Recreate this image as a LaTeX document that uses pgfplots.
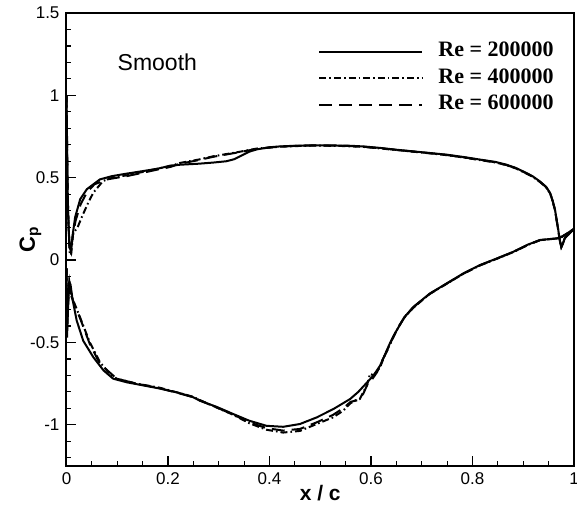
\documentclass[border=0pt]{standalone}
\usepackage{fontspec}
\setmainfont{Liberation Sans}
\newfontfamily\legfont{Liberation Serif}
\usepackage{pgfplots}
\pgfplotsset{compat=1.18}
\usetikzlibrary{calc}
\begin{document}
\begin{tikzpicture}
\begin{axis}[
  scale only axis, width=253.75pt, height=226.5pt,
  xmin=0, xmax=1, ymin=-1.25, ymax=1.5,
  xtick={0,0.2,0.4,0.6,0.8,1}, xticklabels={0,0.2,0.4,0.6,0.8,1},
  ytick={-1,-0.5,0,0.5,1,1.5}, yticklabels={-1,-0.5,0,0.5,1,1.5},
  minor xtick={0.05,0.1,0.15,0.25,0.3,0.35,0.45,0.5,0.55,0.65,0.7,0.75,0.85,0.9,0.95},
  minor ytick={-1.2,-1.1,-0.9,-0.8,-0.7,-0.6,-0.4,-0.3,-0.2,-0.1,0.1,0.2,0.3,0.4,0.6,0.7,0.8,0.9,1.1,1.2,1.3,1.4},
  tick align=inside, xtick pos=bottom, ytick pos=left,
  major tick length=5pt, minor tick length=2.5pt,
  every tick/.style={line width=0.6pt, black},
  axis line style={line width=1pt},
  ticklabel style={font=\fontsize{8.5}{10}\selectfont},
  /pgf/number format/assume math mode=true,
  xlabel={\bfseries x / c},
  xlabel style={font=\fontsize{10.5}{12}\selectfont, at={(rel axis cs:0.5,0)}, anchor=center, yshift=-13.5pt},
  legend style={draw=none, fill=none, at={(rel axis cs:1,1)}, anchor=north east, xshift=-7pt, yshift=-12.8pt,
    font=\legfont\bfseries\fontsize{11}{12}\selectfont, row sep=4.25pt,
    nodes={inner sep=0pt, text height=7pt, text depth=2pt},
    /tikz/every odd column/.append style={column sep=7.5pt}},
  legend cell align=left,
  legend image code/.code={\draw[#1] (0pt,0pt) -- (51.5pt,0pt);},
]
\coordinate (SW) at (rel axis cs:0,0);
\coordinate (NE) at (rel axis cs:1,1);
\coordinate (ML) at (rel axis cs:0,0.5);
% ---- upper branches
\addplot[black, line width=1pt] coordinates {
(0.000,1.00) (0.001,0.75) (0.002,0.45) (0.004,0.20) (0.006,0.08) (0.009,0.05)
(0.012,0.15) (0.017,0.26) (0.027,0.37) (0.040,0.43) (0.066,0.49) (0.090,0.51)
(0.119,0.525) (0.150,0.54) (0.180,0.555) (0.204,0.573) (0.224,0.579) (0.260,0.585)
(0.289,0.592) (0.315,0.600) (0.330,0.612) (0.345,0.635) (0.360,0.658) (0.375,0.672)
(0.400,0.685) (0.420,0.690) (0.450,0.694) (0.486,0.697) (0.520,0.696) (0.552,0.695)
(0.585,0.690) (0.618,0.681) (0.650,0.670) (0.683,0.660) (0.716,0.650) (0.749,0.640)
(0.782,0.626) (0.815,0.610) (0.845,0.596) (0.867,0.579) (0.885,0.560) (0.900,0.538)
(0.918,0.510) (0.933,0.477) (0.945,0.445) (0.953,0.407) (0.958,0.360) (0.9626,0.305)
(0.966,0.240) (0.969,0.183) (0.972,0.120) (0.975,0.080) (0.978,0.100) (0.982,0.135)
(0.990,0.160) (1.000,0.190)};
\addlegendentry{Re = 200000}
\addplot[black, line width=1pt, dash pattern=on 3.5pt off 1.5pt on 0.8pt off 1.5pt] coordinates {
(0.000,1.00) (0.001,0.70) (0.003,0.30) (0.006,0.05) (0.009,0.03) (0.013,0.16)
(0.022,0.20) (0.030,0.26) (0.043,0.35) (0.053,0.41) (0.072,0.48) (0.090,0.50)
(0.119,0.515) (0.150,0.535) (0.180,0.555) (0.204,0.570) (0.224,0.590) (0.260,0.610)
(0.289,0.630) (0.335,0.654) (0.375,0.677) (0.420,0.688) (0.450,0.692) (0.486,0.695)
(0.520,0.694) (0.552,0.692) (0.585,0.687) (0.618,0.678) (0.650,0.668) (0.683,0.658)
(0.716,0.648) (0.749,0.637) (0.782,0.623) (0.815,0.607) (0.845,0.593) (0.867,0.576)
(0.885,0.557) (0.900,0.535) (0.918,0.507) (0.933,0.474) (0.945,0.442) (0.953,0.404)
(0.958,0.357) (0.9626,0.302) (0.966,0.237) (0.969,0.180) (0.972,0.118) (0.975,0.078)
(0.978,0.098) (0.982,0.133) (0.990,0.158) (1.000,0.190)};
\addlegendentry{Re = 400000}
\addplot[black, line width=1pt, dash pattern=on 6.5pt off 3.5pt] coordinates {
(0.000,1.00) (0.001,0.72) (0.003,0.32) (0.006,0.08) (0.009,0.06) (0.012,0.14)
(0.018,0.24) (0.028,0.34) (0.040,0.41) (0.055,0.46) (0.080,0.49) (0.119,0.510)
(0.150,0.530) (0.180,0.550) (0.204,0.565) (0.224,0.585) (0.260,0.607) (0.289,0.627)
(0.335,0.652) (0.375,0.675) (0.420,0.689) (0.450,0.693) (0.486,0.696) (0.520,0.695)
(0.552,0.693) (0.585,0.688) (0.618,0.679) (0.650,0.669) (0.683,0.659) (0.716,0.649)
(0.749,0.638) (0.782,0.624) (0.815,0.608) (0.845,0.594) (0.867,0.577) (0.885,0.558)
(0.900,0.536) (0.918,0.508) (0.933,0.475) (0.945,0.443) (0.953,0.405) (0.958,0.358)
(0.9626,0.303) (0.966,0.238) (0.969,0.181) (0.972,0.119) (0.975,0.079) (0.978,0.099)
(0.982,0.134) (0.990,0.159) (1.000,0.190)};
\addlegendentry{Re = 600000}
% ---- lower branches
\addplot[black, line width=1pt, forget plot] coordinates {
(0.000,-0.05) (0.001,-0.47) (0.003,-0.30) (0.0055,-0.13) (0.008,-0.15) (0.012,-0.24)
(0.020,-0.366) (0.033,-0.49) (0.053,-0.59) (0.073,-0.67) (0.092,-0.72) (0.119,-0.742)
(0.150,-0.76) (0.184,-0.78) (0.220,-0.805) (0.250,-0.833) (0.263,-0.854) (0.295,-0.89)
(0.329,-0.935) (0.360,-0.975) (0.394,-1.006) (0.427,-1.012) (0.460,-0.995) (0.493,-0.955)
(0.526,-0.904) (0.559,-0.843) (0.575,-0.80) (0.590,-0.75) (0.605,-0.70) (0.618,-0.64)
(0.628,-0.57) (0.638,-0.50) (0.650,-0.43) (0.665,-0.35) (0.683,-0.285) (0.716,-0.203)
(0.749,-0.142) (0.782,-0.081) (0.815,-0.030) (0.848,0.010) (0.880,0.050) (0.910,0.095)
(0.933,0.122) (0.966,0.132) (0.976,0.142) (0.992,0.173) (1.000,0.190)};
\addplot[black, line width=1pt, forget plot, dash pattern=on 3.5pt off 1.5pt on 0.8pt off 1.5pt] coordinates {
(0.000,-0.05) (0.001,-0.40) (0.003,-0.25) (0.005,-0.15) (0.008,-0.17) (0.010,-0.22)
(0.027,-0.35) (0.046,-0.50) (0.066,-0.62) (0.085,-0.69) (0.099,-0.72) (0.138,-0.75)
(0.184,-0.775) (0.250,-0.83) (0.263,-0.85) (0.329,-0.94) (0.360,-0.99) (0.394,-1.03)
(0.427,-1.047) (0.460,-1.037) (0.493,-0.995) (0.525,-0.955) (0.545,-0.915) (0.559,-0.87)
(0.570,-0.85) (0.578,-0.843) (0.585,-0.80) (0.592,-0.762) (0.598,-0.69) (0.605,-0.70)
(0.618,-0.65) (0.628,-0.57) (0.638,-0.508) (0.650,-0.43) (0.665,-0.35) (0.683,-0.29)
(0.716,-0.205) (0.749,-0.144) (0.782,-0.083) (0.815,-0.032) (0.848,0.008) (0.880,0.048)
(0.910,0.093) (0.933,0.121) (0.966,0.131) (0.976,0.141) (0.992,0.172) (1.000,0.190)};
\addplot[black, line width=1pt, forget plot, dash pattern=on 6.5pt off 3.5pt] coordinates {
(0.000,-0.05) (0.001,-0.42) (0.003,-0.27) (0.006,-0.14) (0.010,-0.224) (0.027,-0.355)
(0.046,-0.51) (0.066,-0.63) (0.099,-0.72) (0.138,-0.75) (0.184,-0.778) (0.250,-0.832)
(0.263,-0.852) (0.329,-0.938) (0.360,-0.985) (0.394,-1.02) (0.427,-1.035) (0.460,-1.025)
(0.493,-0.985) (0.525,-0.94) (0.545,-0.90) (0.560,-0.86) (0.575,-0.85) (0.585,-0.81)
(0.595,-0.74) (0.603,-0.72) (0.612,-0.68) (0.622,-0.61) (0.632,-0.55) (0.643,-0.47)
(0.655,-0.40) (0.670,-0.33) (0.690,-0.27) (0.716,-0.204) (0.749,-0.143) (0.782,-0.082)
(0.815,-0.031) (0.848,0.009) (0.880,0.049) (0.910,0.094) (0.933,0.121) (0.966,0.131)
(0.976,0.141) (0.992,0.172) (1.000,0.190)};
\node[font=\fontsize{11.5}{13}\selectfont] at (axis cs:0.179,1.198) {Smooth};
\end{axis}
\node[rotate=90, font=\fontsize{11}{12}\selectfont\bfseries, inner sep=0pt] at ($(ML)+(-18pt,0)$) {C\textsubscript{p}};
\pgfresetboundingbox
\path ($(SW)+(-33.25pt,-21.5pt)$) rectangle ($(NE)+(1.5pt,6.5pt)$);
\end{tikzpicture}
\end{document}
